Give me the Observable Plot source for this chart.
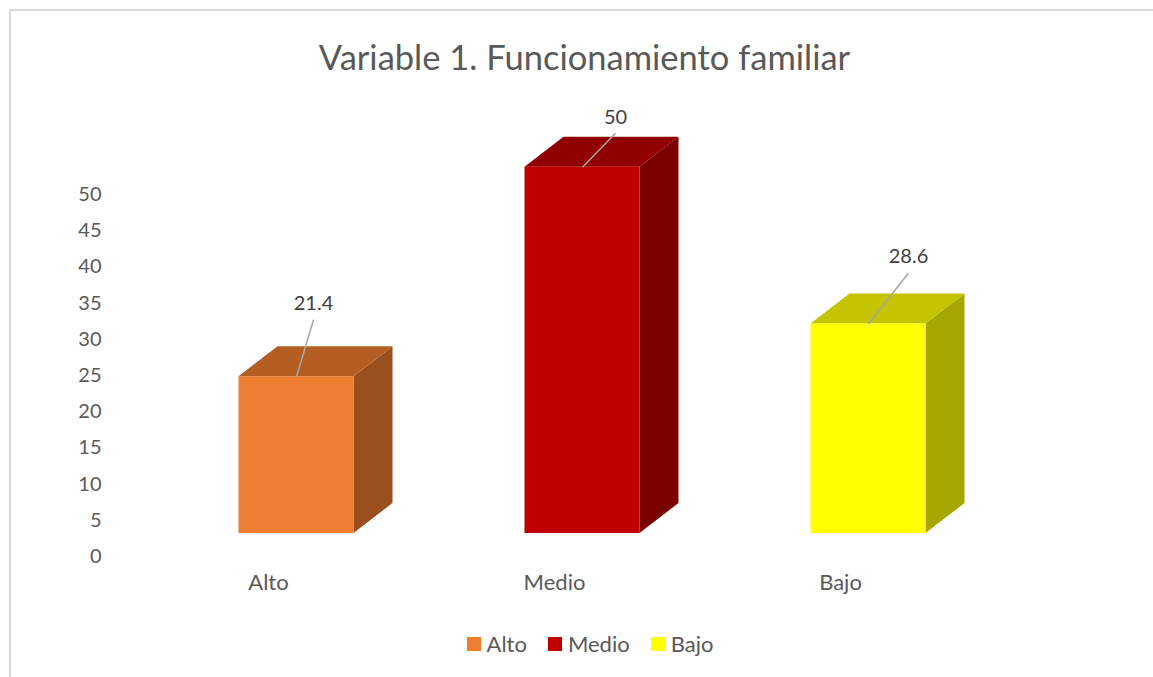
<!DOCTYPE html>
<html>
<head>
<meta charset="utf-8">
<script src="https://cdn.jsdelivr.net/npm/d3@7"></script>
<script src="https://cdn.jsdelivr.net/npm/@observablehq/plot@0.6"></script>
<style>
  html, body { margin: 0; padding: 0; background: #fff; }
  #wrap { position: relative; width: 1153px; height: 677px; overflow: hidden; font-family: Lato, "Open Sans", sans-serif; }
  #border { position: absolute; left: 9px; top: 9px; width: 1200px; height: 720px; border: 2px solid #d9d9d9; pointer-events: none; box-sizing: border-box; }
  #title { height: 100px; box-sizing: border-box; padding-top: 37px; padding-left: 16px; line-height: 40px; text-align: center; font-size: 34.5px; color: #595959; }
  #chart svg { display: block; }
  #legend { height: 47px; display: flex; justify-content: center; align-items: center; padding-left: 27px; font-size: 22px; color: #595959; }
  .item { display: flex; align-items: center; margin-right: 21px; }
  .item:last-child { margin-right: 0; }
  .sw { width: 14px; height: 14px; margin-right: 6px; }
</style>
</head>
<body>
<div id="wrap">
  <div id="title">Variable 1. Funcionamiento familiar</div>
  <div id="chart"></div>
  <div id="legend"></div>
  <div id="border"></div>
</div>
<script>
// ---- data ----
const categories = ["Alto", "Medio", "Bajo"];
const values = [21.4, 50, 28.6];
const yTicks = [0, 5, 10, 15, 20, 25, 30, 35, 40, 45, 50];

// ---- styles ----
const palette = {
  front: ["#ED7D31", "#C00000", "#FFFF00"],
  top:   ["#B55E24", "#910000", "#C4C400"],
  side:  ["#9A501E", "#7A0000", "#A6A600"]
};
const xPx = 286, yPx = 7.24;               // pixels per x/y unit (from scale ranges below)
const geo = { base: 23 / yPx, k: 1.012, half: 57.5 / xPx, dx: 39 / xPx, dy: 30 / yPx };
const labelNudge = { Alto: [17, -73], Medio: [33, -50], Bajo: [40, -67] };

const bars = categories.map((c, i) => ({ c, i, v: values[i], top: geo.base + values[i] * geo.k }));

const sidePts = bars.flatMap(b => [
  { c: b.c, x: b.i + geo.half,          y1: geo.base,          y2: b.top,          fill: palette.side[b.i] },
  { c: b.c, x: b.i + geo.half + geo.dx, y1: geo.base + geo.dy, y2: b.top + geo.dy, fill: palette.side[b.i] }
]);
const topPts = bars.flatMap(b => [
  { c: b.c, y: b.top,          x1: b.i - geo.half,          x2: b.i + geo.half,          fill: palette.top[b.i] },
  { c: b.c, y: b.top + geo.dy, x1: b.i - geo.half + geo.dx, x2: b.i + geo.half + geo.dx, fill: palette.top[b.i] }
]);

const chart = Plot.plot({
  width: 1153,
  height: 520,
  marginLeft: 110, marginRight: 0, marginTop: 0, marginBottom: 0,
  style: { fontFamily: "Lato, 'Open Sans', sans-serif", fontSize: "20px", color: "#595959", background: "transparent" },
  x: { domain: [-0.5, 2.5], range: [153, 1011], axis: null },
  y: { domain: [0, 50], range: [456, 94], axis: null },
  color: { type: "identity" },
  marks: [
    Plot.axisY({ ticks: yTicks, tickSize: 0, tickPadding: 9, anchor: "left", fontSize: 20, tickFormat: d => String(d) }),
    Plot.areaY(sidePts, { x: "x", y1: "y1", y2: "y2", z: "c", fill: "fill" }),
    Plot.areaX(topPts, { y: "y", x1: "x1", x2: "x2", z: "c", fill: "fill" }),
    Plot.rect(bars, {
      x1: d => d.i - geo.half, x2: d => d.i + geo.half,
      y1: () => geo.base, y2: "top",
      fill: d => palette.front[d.i]
    }),
    Plot.link(bars, {
      x1: d => d.i, y1: d => d.top,
      x2: d => d.i + labelNudge[d.c][0] / xPx,
      y2: d => d.top - (labelNudge[d.c][1] + 16) / yPx,
      stroke: "#a6a6a6", strokeWidth: 1.5
    }),
    Plot.text(bars, {
      x: d => d.i + labelNudge[d.c][0] / xPx,
      y: d => d.top - labelNudge[d.c][1] / yPx,
      text: d => String(d.v), fill: "#404040", fontSize: 20
    }),
    Plot.text(bars, {
      x: "i", text: "c", frameAnchor: "bottom", dy: -31, dx: -28,
      fill: "#595959", fontSize: 22
    })
  ]
});
document.getElementById("chart").appendChild(chart);

// legend
const legend = document.getElementById("legend");
categories.forEach((c, i) => {
  const it = document.createElement("div");
  it.className = "item";
  const sw = document.createElement("span");
  sw.className = "sw";
  sw.style.background = palette.front[i];
  const tx = document.createElement("span");
  tx.textContent = c;
  it.appendChild(sw); it.appendChild(tx);
  legend.appendChild(it);
});
</script>
</body>
</html>
